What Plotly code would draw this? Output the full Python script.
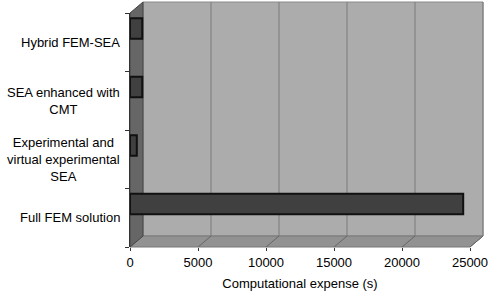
import plotly.graph_objects as go

categories = ["Full FEM solution", "Experimental and<br>virtual experimental<br>SEA",
              "SEA enhanced with<br>CMT", "Hybrid FEM-SEA"]
expense_s = [24500, 500, 900, 900]
x_ticks = [0, 5000, 10000, 15000, 20000, 25000]

W, H = 491, 297
ML, MR, MT, MB = 130, 21, 13, 50
PW, PH = W - ML - MR, H - MT - MB
XMAX = 25000
dxp = 13 / PW   # 3D depth offset (paper units)
dyp = 11 / PH

shapes = []
# back wall
shapes.append(dict(type="path", xref="paper", yref="paper", layer="below",
                   path=f"M {dxp} {dyp} L {1+dxp} {dyp} L {1+dxp} {1+dyp} L {dxp} {1+dyp} Z",
                   fillcolor="#acacac", line=dict(color="#8a8a8a", width=1)))
# floor
shapes.append(dict(type="path", xref="paper", yref="paper", layer="below",
                   path=f"M 0 0 L {dxp} {dyp} L {1+dxp} {dyp} L 1 0 Z",
                   fillcolor="#929292", line=dict(color="#777777", width=1)))
# left wall
shapes.append(dict(type="path", xref="paper", yref="paper", layer="below",
                   path=f"M 0 0 L 0 1 L {dxp} {1+dyp} L {dxp} {dyp} Z",
                   fillcolor="#666666", line=dict(color="#444444", width=1)))
# gridlines on back wall and floor
for v in x_ticks[1:]:
    xp = v / XMAX
    shapes.append(dict(type="line", xref="paper", yref="paper", layer="below",
                       x0=xp + dxp, x1=xp + dxp, y0=dyp, y1=1 + dyp,
                       line=dict(color="#7a7a7a", width=1)))
    shapes.append(dict(type="line", xref="paper", yref="paper", layer="below",
                       x0=xp, x1=xp + dxp, y0=0, y1=dyp,
                       line=dict(color="#666666", width=1)))

fig = go.Figure(go.Bar(
    orientation="h", y=categories, x=expense_s, width=0.35, offset=0.06,
    marker=dict(color="#404040", line=dict(color="#111111", width=2)),
))

annotations = []
for c in categories:
    annotations.append(dict(xref="paper", yref="y", x=-8 / PW, y=c, text=c,
                            xanchor="right", yanchor="middle", align="center",
                            showarrow=False,
                            font=dict(family="Liberation Sans, Arial", size=13, color="#000000")))

fig.update_layout(
    width=W, height=H,
    margin=dict(l=ML, r=MR, t=MT, b=MB),
    paper_bgcolor="white", plot_bgcolor="rgba(0,0,0,0)",
    showlegend=False, shapes=shapes, annotations=annotations,
    font=dict(family="Liberation Sans, Arial", size=13, color="#000000"),
)
fig.update_xaxes(range=[0, XMAX], tickvals=x_ticks, tickformat="d",
                 showgrid=False, zeroline=False, ticks="outside", ticklen=3,
                 ticklabelstandoff=0, automargin=False,
                 tickcolor="#333333", showline=False,
                 title=dict(text="Computational expense (s)", standoff=10,
                            font=dict(size=13)))
fig.update_yaxes(categoryorder="array", categoryarray=categories,
                 range=[-0.5, 3.5], showticklabels=False, showgrid=False,
                 automargin=False,
                 ticks="outside", tickson="boundaries", ticklen=4,
                 tickcolor="#333333", showline=True, linecolor="#333333")

fig.write_html("out.html")
